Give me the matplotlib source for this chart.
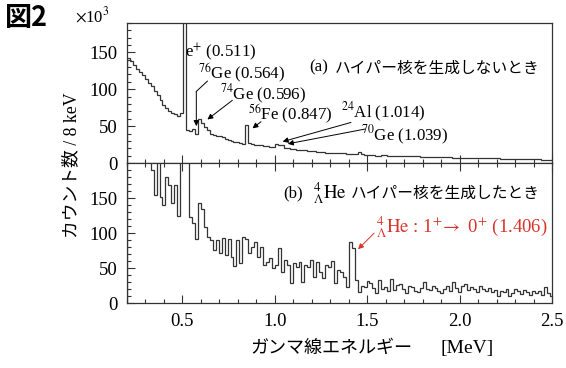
import numpy as np
import matplotlib
matplotlib.use("Agg")
import matplotlib.pyplot as plt
from matplotlib.patches import FancyArrowPatch

plt.rcParams["mathtext.fontset"] = "stix"
SERIF = ["Liberation Serif", "Noto Sans CJK JP"]
plt.rcParams["font.family"] = SERIF

# energy binning (MeV) shared by both spectra
e_start = 0.2
bin_width = 0.016

# (a) no hypernucleus, counts x10^3 per 8 keV
counts_a = [
    142, 138, 133, 128, 124, 119, 114, 108, 104, 98,
    92, 85, 79, 75, 71, 68, 66, 64, 68, 420,
    45, 44, 46, 40, 60, 54, 49, 45, 40, 38,
    37, 36, 35, 33, 31, 30, 29, 28, 27, 26,
    51, 27, 26, 25, 24, 24, 23, 23, 22, 22,
    26, 24, 25, 21, 20, 19, 19, 18, 18, 17,
    17, 16, 16, 16, 15, 15, 15, 14, 14, 14,
    13, 13, 13, 13, 12, 12, 12, 12, 15, 12,
    11, 11, 11, 11, 10, 10, 11, 11, 10, 10,
    10, 9.5, 9.5, 9, 9, 9, 9, 9, 9, 8.5,
    8.5, 8.5, 8, 8, 8, 8, 7.5, 7.5, 7.5, 7.5,
    7, 7, 7, 7, 7, 6.8, 6.8, 6.8, 6.5, 6.5,
    6.5, 6.5, 6.3, 6.2, 6.2, 7, 6, 5.8, 5.8, 5.6,
    5.6, 5.5, 5.5, 6, 5.3, 5.2, 5, 5, 4.9, 4.8,
    4.7, 4.6, 4.5, 4.5,
]

# (b) 4LambdaHe hypernucleus produced, counts per 8 keV
counts_b = [
    260, 250, 240, 230, 225, 215, 210, 205, 190, 154,
    205, 152, 140, 180, 168, 143, 168, 124, 230, 300,
    240, 123, 114, 91, 143, 134, 109, 95, 90, 76,
    90, 71, 93, 69, 91, 66, 53, 90, 57, 94,
    92, 71, 80, 87, 66, 80, 54, 59, 64, 50,
    54, 79, 44, 61, 54, 29, 57, 52, 59, 30,
    54, 51, 61, 37, 59, 45, 36, 55, 51, 60,
    29, 48, 44, 38, 23, 87, 79, 33, 16, 25,
    23, 31, 29, 22, 14, 33, 21, 23, 18, 35,
    19, 26, 28, 20, 14, 24, 23, 17, 16, 22,
    30, 21, 19, 25, 22, 17, 14, 20, 24, 18,
    30, 22, 16, 24, 28, 19, 23, 21, 16, 25,
    20, 18, 22, 16, 19, 11, 17, 16, 20, 11,
    15, 20, 17, 13, 19, 16, 12, 18, 14, 17,
    12, 23, 15, 11,
]

peaks_a = [
    (r"e$^{+}$ (0.511)", 0.515, 150),
    (r"$^{76}$Ge (0.564)", 0.586, 121),
    (r"$^{74}$Ge (0.596)", 0.705, 93),
    (r"$^{56}$Fe (0.847)", 0.857, 66),
    (r"$^{24}$Al (1.014)", 1.358, 68),
    (r"$^{70}$Ge (1.039)", 1.466, 37),
]

edges = e_start + bin_width * np.arange(len(counts_a) + 1)
line_col = "#333333"
fs = 13.5
fs_ann = 12.2
fs_jp = 11.3


def arrow(ax, tail, head, color="black"):
    ax.add_patch(FancyArrowPatch(tail, head, arrowstyle="-|>", color=color, lw=0.7,
                                 mutation_scale=8, shrinkA=0, shrinkB=0))


fig = plt.figure(figsize=(5.66, 3.68), dpi=100)
ax1 = fig.add_axes([0.2244, 0.557, 0.751, 0.381])
ax2 = fig.add_axes([0.2244, 0.176, 0.751, 0.381])

ax1.stairs(counts_a, edges, color=line_col, lw=0.9)
ax2.stairs(counts_b, edges, color=line_col, lw=0.9)

ax1.set_ylim(0, 162)
ax2.set_ylim(0, 200)
for ax in (ax1, ax2):
    ax.set_xlim(0.2, 2.5)
    ax.set_xticks(np.arange(0.5, 2.51, 0.5))
    ax.set_xticks(np.arange(0.2, 2.51, 0.1), minor=True)
    ax.set_yticks([0, 50, 100, 150])
    ax.set_yticks(np.arange(0, 200, 10), minor=True)
    ax.tick_params(which="both", direction="in", colors=line_col, width=0.8,
                   labelcolor="black", labelsize=fs, right=False)
    ax.tick_params(which="major", length=6, pad=7)
    ax.tick_params(which="minor", length=3)
    for s in ax.spines.values():
        s.set_color(line_col)
        s.set_linewidth(0.9)
ax1.tick_params(labelbottom=False)
ax2.tick_params(top=True, which="both")
ax2.set_xticklabels(["0.5", "1.0", "1.5", "2.0", "2.5"])

# top panel annotations
ax1.text(1.184, 129, "(a)", fontsize=fs_ann, va="center")
ax1.text(2.434, 129, "ハイパー核を生成しないとき", fontsize=fs_jp, va="center",
         ha="right", family="Noto Sans CJK JP")
for label, x, y in peaks_a:
    ax1.text(x, y, label, fontsize=fs_ann, va="center")

ax1.plot([0.635, 0.575], [111, 97], color="black", lw=0.7)
arrow(ax1, (0.575, 97), (0.575, 50))
arrow(ax1, (0.77, 85), (0.635, 59))
arrow(ax1, (0.925, 56), (0.879, 47))
arrow(ax1, (1.412, 55), (1.042, 29))
arrow(ax1, (1.488, 46), (1.07, 26))

# bottom panel annotations
ax2.text(1.048, 157, "(b)", fontsize=fs_ann, va="center")
ax2.text(1.205, 157, r"${}^{4}_{\Lambda}\mathrm{He}$", fontsize=fs, va="center")
ax2.text(2.434, 157, "ハイパー核を生成したとき", fontsize=fs_jp, va="center",
         ha="right", family="Noto Sans CJK JP")
red = "#d9342b"
ax2.text(1.548, 109, r"${}^{4}_{\Lambda}\mathrm{He}$ : 1$^{+}\!\rightarrow$ 0$^{+}$ (1.406)",
         fontsize=fs, va="center", color=red)
arrow(ax2, (1.537, 100), (1.45, 77), color=red)

fig.text(72 / 566, 1 - 165 / 368, "カウント数 / 8 keV", rotation=90,
         fontsize=12.8, ha="center", va="center")
fig.text(250 / 566, 1 - 348 / 368, "ガンマ線エネルギー", fontsize=13,
         ha="left", va="center", family="Noto Sans CJK JP")
fig.text(494 / 566, 1 - 348 / 368, "[MeV]", fontsize=14,
         ha="right", va="center")
fig.text(92 / 566, 1 - 16 / 368, r"$\times$10$^{3}$", fontsize=12,
         ha="center", va="center")
fig.text(5 / 566, 1 - 18 / 368, "図2", fontsize=19.5, fontweight="bold",
         family="Noto Sans CJK JP", ha="left", va="center")

fig.savefig("out.png", dpi=100)
